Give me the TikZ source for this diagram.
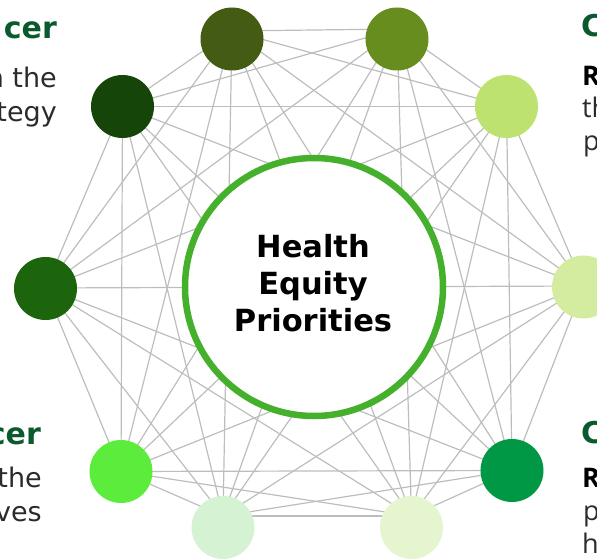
\documentclass[tikz,border=0pt]{standalone}
\usepackage{fontspec}
\setmainfont{DejaVu Sans}
\newfontfamily\bodyfont{Open Sans}
\usetikzlibrary{backgrounds}

\definecolor{ringgreen}{HTML}{45B02C}
\definecolor{titlegreen}{HTML}{0B5A2E}
\definecolor{bodygray}{HTML}{2B2B2B}
\definecolor{edgegray}{HTML}{BDBDBD}
\definecolor{cA}{HTML}{435B13}
\definecolor{cB}{HTML}{678D1F}
\definecolor{cC}{HTML}{BDE26F}
\definecolor{cD}{HTML}{D3ECA0}
\definecolor{cE}{HTML}{009845}
\definecolor{cF}{HTML}{E5F5D0}
\definecolor{cG}{HTML}{D5F3D3}
\definecolor{cH}{HTML}{5CED3C}
\definecolor{cI}{HTML}{1C650C}
\definecolor{cJ}{HTML}{154508}

\tikzset{
  dot/.style={circle, minimum size=63pt, inner sep=0pt, draw=none},
  edge/.style={draw=edgegray, line width=1.2pt},
  hub/.style={circle, minimum size=258pt, inner sep=0pt, fill=white,
    draw=ringgreen, line width=6.5pt},
  hubtext/.style={align=center, font=\bfseries\fontsize{30.5}{37}\selectfont, text=black},
  lefttitle/.style={anchor=base east, font=\bfseries\fontsize{30}{36}\selectfont, text=titlegreen, inner sep=0pt},
  leftbody/.style={anchor=base east, font=\fontsize{27}{34}\selectfont, text=bodygray, inner sep=0pt},
  righttitle/.style={anchor=base west, font=\bfseries\fontsize{30}{36}\selectfont, text=titlegreen, inner sep=0pt},
  rightbody/.style={anchor=base west, font=\bodyfont\fontsize{27}{32}\selectfont, text=bodygray, inner sep=0pt},
  rightlead/.style={rightbody, font=\bodyfont\bfseries\fontsize{27}{32}\selectfont, text=black},
}

\begin{document}
\begin{tikzpicture}[x=1pt, y=-1pt]
\useasboundingbox (0,0) rectangle (597,559);

% ring of ten dots
\node[dot, fill=cA] (n1)  at (232,39)      {};
\node[dot, fill=cB] (n2)  at (397,39)      {};
\node[dot, fill=cC] (n3)  at (506.5,106.5) {};
\node[dot, fill=cD] (n4)  at (583.5,287)   {};
\node[dot, fill=cE] (n5)  at (512,470.5)   {};
\node[dot, fill=cF] (n6)  at (411.5,527.5) {};
\node[dot, fill=cG] (n7)  at (223,527.5)   {};
\node[dot, fill=cH] (n8)  at (121,471.5)   {};
\node[dot, fill=cI] (n9)  at (45.5,288.5)  {};
\node[dot, fill=cJ] (n10) at (122.5,106.5) {};

% points where the links meet inside each dot
\coordinate (v1)  at (232,31);
\coordinate (v2)  at (397,29);
\coordinate (v3)  at (506.5,106.5);
\coordinate (v4)  at (583.5,286);
\coordinate (v5)  at (512,470.5);
\coordinate (v6)  at (411.5,516);
\coordinate (v7)  at (223,516);
\coordinate (v8)  at (121,471.5);
\coordinate (v9)  at (45.5,288);
\coordinate (v10) at (122.5,106.5);

% every dot is linked with every other one, behind the dots
\begin{scope}[on background layer]
  \foreach \i in {1,...,9}{
    \pgfmathtruncatemacro\nxt{\i+1}
    \foreach \j in {\nxt,...,10}{
      \draw[edge] (v\i) -- (v\j);
    }
  }
\end{scope}

% central hub
\node[hub] (hub) at (314,287) {};
\node[hubtext] (hublabel) at (313,283) {Health\\Equity\\Priorities};

% side captions
\node[lefttitle] (tlTitle) at (57,39)  {cer};
\node[leftbody]  (tlLine1) at (57,88)  {n the};
\node[leftbody]  (tlLine2) at (57,122) {tegy};

\node[lefttitle] (blTitle) at (41,444) {cer};
\node[leftbody]  (blLine1) at (42,487) {the};
\node[leftbody]  (blLine2) at (42,521) {ves};

\node[righttitle] (trTitle) at (581,37)  {C};
\node[rightlead] (trLine1) at (582,86) {R};
\node[rightbody] (trLine2) at (582,118) {th};
\node[rightbody] (trLine3) at (583,150) {p};

\node[righttitle] (brTitle) at (581,443) {C};
\node[rightlead] (brLine1) at (582,487) {R};
\node[rightbody] (brLine2) at (583,520) {p};
\node[rightbody] (brLine3) at (582,553) {h};
\end{tikzpicture}
\end{document}
